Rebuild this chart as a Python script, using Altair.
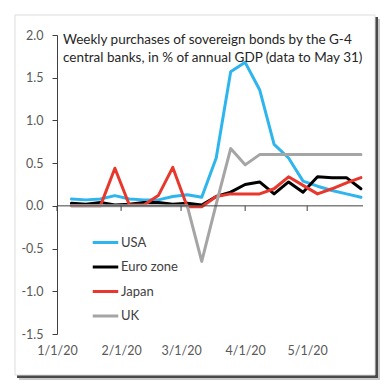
import altair as alt
import pandas as pd

dates = ["2020-01-08", "2020-01-15", "2020-01-22", "2020-01-29", "2020-02-05", "2020-02-12",
         "2020-02-19", "2020-02-26", "2020-03-04", "2020-03-11", "2020-03-18", "2020-03-25",
         "2020-04-01", "2020-04-08", "2020-04-15", "2020-04-22", "2020-04-29", "2020-05-06",
         "2020-05-13", "2020-05-20", "2020-05-27"]
usa = [0.08, 0.07, 0.08, 0.12, 0.08, 0.07, 0.07, 0.11, 0.13, 0.10, 0.56, 1.57, 1.68, 1.36,
       0.72, 0.56, 0.29, 0.23, 0.18, 0.14, 0.10]
euro = [0.03, 0.02, 0.04, 0.01, 0.02, 0.04, 0.04, 0.02, 0.03, 0.01, 0.11, 0.16, 0.25, 0.28,
        0.14, 0.28, 0.16, 0.34, 0.33, 0.33, 0.20]
japan = [0.0, 0.0, 0.0, 0.44, 0.01, 0.01, 0.12, 0.45, -0.01, -0.01, 0.11, 0.14, 0.14, 0.14,
         0.20, 0.34, 0.24, 0.14, 0.20, 0.27, 0.33]
uk = [0.0, 0.0, 0.0, 0.0, 0.0, 0.0, 0.0, 0.0, 0.0, -0.65, 0.02, 0.67, 0.48, 0.60,
      0.60, 0.60, 0.60, 0.60, 0.60, 0.60, 0.60]
series_names = ["USA", "Euro zone", "Japan", "UK"]
series_colors = ["#2EB5EE", "#000000", "#E8372C", "#A5A5A5"]
tick_dates = ["2020-01-01", "2020-02-01", "2020-03-01", "2020-04-01", "2020-05-01"]
y_ticks = [-1.5, -1.0, -0.5, 0.0, 0.5, 1.0, 1.5, 2.0]
title_lines = ["Weekly purchases of sovereign bonds by the G-4",
               "central banks, in % of annual GDP (data to May 31)"]

rows = []
for name, vals in zip(series_names, [usa, euro, japan, uk]):
    for d, v in zip(dates, vals):
        rows.append({"date": d, "value": v, "series": name, "order": series_names.index(name)})
df = pd.DataFrame(rows)

FONT = "Lato"
W, H = 306, 299

xscale = alt.Scale(type="utc", domain=[alt.DateTime(year=2020, month=1, date=1, utc=True),
                                       alt.DateTime(year=2020, month=5, date=28, utc=True)], nice=False)
tick_vals = [alt.DateTime(year=2020, month=int(t[5:7]), date=1, utc=True) for t in tick_dates]
xaxis = alt.Axis(values=tick_vals, labelExpr="utcFormat(datum.value, '%-m/%-d/%y')",
                 domain=False, ticks=False, grid=False, labelPadding=10, zindex=1,
                 labelFlush=False, labelOverlap=False,
                 labelFont=FONT, labelFontSize=12.5, labelColor="#595959", title=None)

one = pd.DataFrame({"a": [0]})
shadow_outer = alt.Chart(one).mark_rect(color="#c9c9c9").encode(
    x=alt.value(-38), x2=alt.value(323), y=alt.value(-16), y2=alt.value(345))
shadow_inner = alt.Chart(one).mark_rect(color="#4a4a4a").encode(
    x=alt.value(-40), x2=alt.value(321), y=alt.value(-18), y2=alt.value(343))
frame = alt.Chart(one).mark_rect(fill="white", stroke="#dddddd", strokeWidth=1).encode(
    x=alt.value(-42), x2=alt.value(318), y=alt.value(-20), y2=alt.value(340))

lines = alt.Chart(df).mark_line(strokeWidth=3, strokeJoin="round", strokeCap="round").encode(
    x=alt.X("date:T", scale=xscale, axis=xaxis),
    y=alt.Y("value:Q", scale=alt.Scale(domain=[-1.5, 2.0], nice=False, zero=False),
            axis=alt.Axis(values=y_ticks, labelExpr="replace(format(datum.value, '.1f'), '\u2212', '-')",
                          domainColor="#404040", domainWidth=1, tickColor="#404040", tickSize=5,
                          grid=False, labelPadding=9, labelFont=FONT, labelFontSize=12.5, zindex=1,
                          labelColor="#595959", title=None)),
    color=alt.Color("series:N", scale=alt.Scale(domain=series_names, range=series_colors),
                    legend=alt.Legend(orient="none", legendX=34, legendY=193, title=None,
                                      symbolType="stroke", symbolSize=650, symbolStrokeWidth=3,
                                      labelFont=FONT, labelFontSize=13, labelColor="#404040",
                                      labelOffset=1, rowPadding=2.5, zindex=1)),
    order=alt.Order("order:Q"),
    detail="series:N",
)

zero_line = alt.Chart(one).mark_rule(color="#404040", strokeWidth=1).encode(y=alt.datum(0))

tdf = pd.DataFrame({"d": tick_dates})
ticks = alt.Chart(tdf).mark_rule(color="#404040", strokeWidth=1).encode(
    x=alt.X("d:T", scale=xscale, axis=xaxis), y=alt.datum(0), y2=alt.datum(-0.06))

title = alt.Chart(pd.DataFrame({"t": ["\n".join(title_lines)]})).mark_text(
    align="left", baseline="alphabetic", font=FONT, fontSize=13.5, color="#262626",
    lineBreak="\n", lineHeight=18).encode(text="t:N", x=alt.value(6), y=alt.value(9))

chart = alt.layer(shadow_outer, shadow_inner, frame, lines, zero_line, ticks, title).properties(
    width=W, height=H, autosize=alt.AutoSizeParams(type="none"),
    padding={"left": 49, "top": 27, "right": 19, "bottom": 48},
).configure_view(stroke=None)

chart.save("out.html", embed_options={"renderer": "svg", "actions": False})
